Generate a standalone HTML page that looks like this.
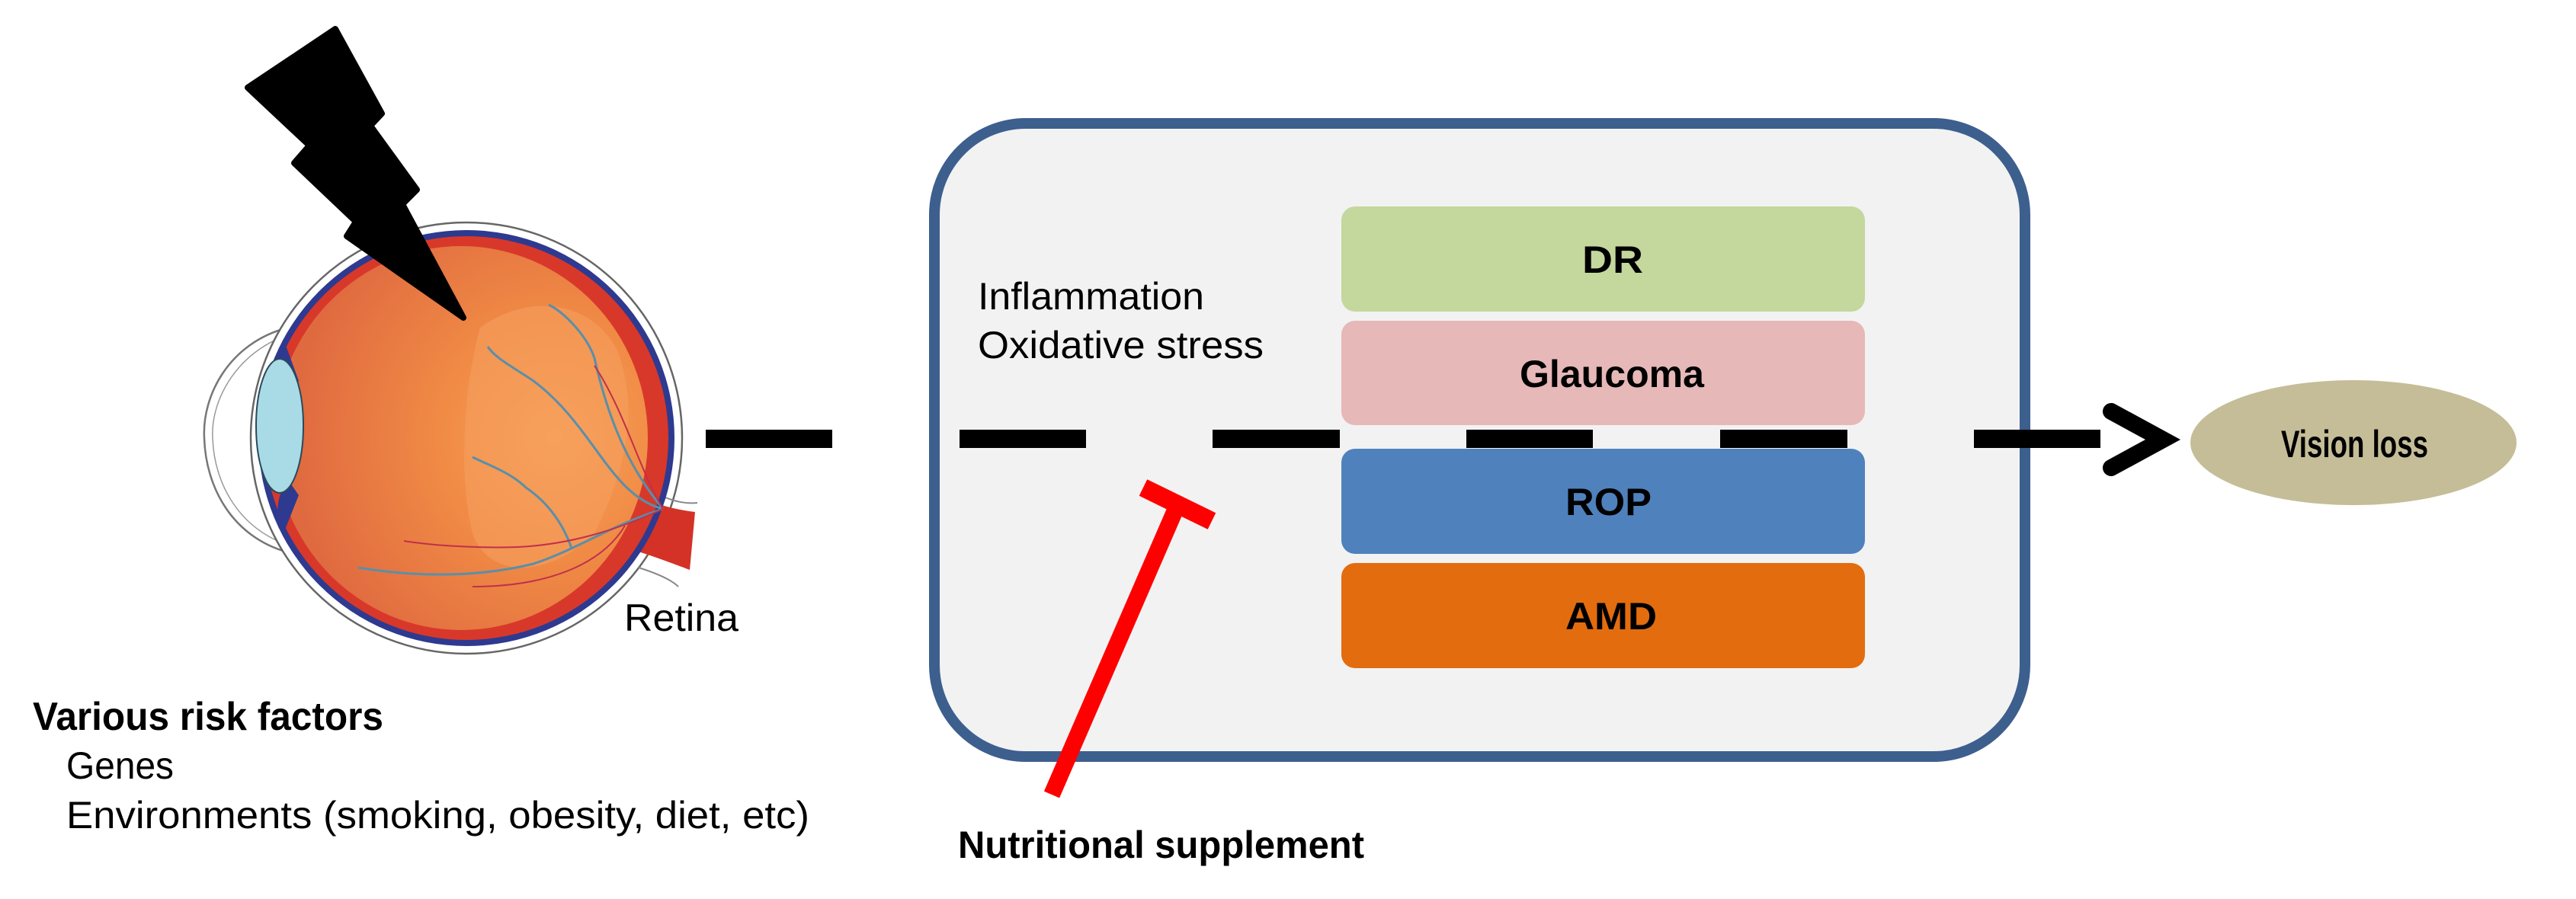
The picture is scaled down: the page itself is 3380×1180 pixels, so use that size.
<!DOCTYPE html>
<html><head><meta charset="utf-8"><style>
html,body{margin:0;padding:0;background:#fff}
body{width:3380px;height:1180px;overflow:hidden;position:relative;font-family:"Liberation Sans",Arial,sans-serif}
</style></head><body>
<svg width="3380" height="1180" viewBox="0 0 3380 1180" xmlns="http://www.w3.org/2000/svg" style="position:absolute;left:0;top:0">
<defs>
<radialGradient id="eyeg" cx="0.75" cy="0.5" r="0.7">
<stop offset="0" stop-color="#f7a057"/>
<stop offset="0.45" stop-color="#f08a45"/>
<stop offset="1" stop-color="#e06a40"/>
</radialGradient>
</defs>
<path d="M378,430 C300,450 265,520 268,575 C270,640 305,705 378,725" fill="#fff" stroke="#777" stroke-width="2.5"/>
<path d="M386,437 C312,458 276,525 279,575 C281,635 314,697 386,718" fill="none" stroke="#999" stroke-width="1.5"/>
<circle cx="612" cy="575" r="283" fill="#fff" stroke="#666" stroke-width="2.5"/>
<path d="M820,640 C850,660 880,668 912,672 L905,748 C870,735 845,725 815,718 Z" fill="#d43226"/>
<path d="M850,640 C870,655 895,662 915,660" fill="none" stroke="#888" stroke-width="2"/>
<path d="M838,745 C860,752 880,760 890,770" fill="none" stroke="#888" stroke-width="2"/>
<circle cx="612" cy="575" r="273" fill="#2e3a8f"/>
<circle cx="612" cy="575" r="265" fill="#d8382a"/>
<ellipse cx="605" cy="575" rx="245" ry="252" fill="url(#eyeg)"/>
<path d="M630,430 C700,380 780,400 810,460 C840,540 820,620 780,700 C720,760 640,760 620,700 C600,620 610,500 630,430Z" fill="#f5a060" opacity="0.55"/>
<g fill="none" stroke="#5a8fa8" stroke-width="3">
<path d="M870,668 C800,650 780,560 700,500 C670,480 650,470 640,455"/>
<path d="M870,668 C830,620 800,560 780,470 C770,440 740,410 720,400"/>
<path d="M870,668 C800,690 760,720 700,740 C640,755 560,760 470,745"/>
<path d="M750,720 C740,690 720,660 690,640 C670,620 640,610 620,600"/>
</g>
<g fill="none" stroke="#c0304a" stroke-width="2">
<path d="M870,668 C800,700 740,715 680,718 C620,720 560,715 530,710"/>
<path d="M870,668 C840,620 820,540 780,480"/>
<path d="M820,690 C790,740 720,770 620,770"/>
</g>
<path d="M372,445 C360,470 362,500 378,520 L392,500 Z" fill="#2e3a8f"/>
<path d="M372,700 C360,680 362,650 378,630 L392,650 Z" fill="#2e3a8f"/>
<ellipse cx="367" cy="559" rx="31" ry="88" fill="#a8dbe6" stroke="#2a4a5a" stroke-width="2"/>
<path d="M440,38 L501,149 L486,165 L547,249 L528,268 L608,417 L455,310 L467,291 L386,214 L406,191 L325,115 Z" fill="#000" stroke="#000" stroke-width="8" stroke-linejoin="round"/>

<rect x="1226" y="162" width="1431" height="831" rx="120" ry="120" fill="#f2f2f2" stroke="#3d5f8e" stroke-width="14"/>
<rect x="1760" y="271" width="687" height="138" rx="18" fill="#c4d79d"/>
<rect x="1760" y="421" width="687" height="137" rx="18" fill="#e6b8b7"/>
<rect x="1760" y="589" width="687" height="138" rx="18" fill="#4f81bd"/>
<rect x="1760" y="739" width="687" height="138" rx="18" fill="#e36c0e"/>
<g fill="#000">
<rect x="926" y="564" width="166" height="24"/>
<rect x="1259" y="564" width="166" height="24"/>
<rect x="1591" y="564" width="167" height="24"/>
<rect x="1924" y="564" width="166" height="24"/>
<rect x="2257" y="564" width="167" height="24"/>
<rect x="2590" y="564" width="166" height="24"/>
</g>
<polyline points="2770,540 2838,577 2770,614" fill="none" stroke="#000" stroke-width="22" stroke-linecap="round" stroke-linejoin="miter"/>
<ellipse cx="3088" cy="581" rx="214" ry="82" fill="#c4bd97"/>
<line x1="1380" y1="1043" x2="1544" y2="665" stroke="#ff0000" stroke-width="22"/>
<line x1="1500" y1="640" x2="1590" y2="684" stroke="#ff0000" stroke-width="24"/>

<g font-family="Liberation Sans, Arial, sans-serif" fill="#000" lengthAdjust="spacingAndGlyphs">
<text x="819" y="828" font-size="50" textLength="150" lengthAdjust="spacingAndGlyphs">Retina</text>
<text x="43" y="958" font-size="52" font-weight="bold" textLength="460" lengthAdjust="spacingAndGlyphs">Various risk factors</text>
<text x="87" y="1022" font-size="50" textLength="141" lengthAdjust="spacingAndGlyphs">Genes</text>
<text x="87" y="1087" font-size="50" textLength="975" lengthAdjust="spacingAndGlyphs">Environments (smoking, obesity, diet, etc)</text>
<text x="1283" y="406" font-size="50" textLength="297" lengthAdjust="spacingAndGlyphs">Inflammation</text>
<text x="1283" y="470" font-size="50" textLength="375" lengthAdjust="spacingAndGlyphs">Oxidative stress</text>
<text x="2076" y="358" font-size="50" font-weight="bold" textLength="80" lengthAdjust="spacingAndGlyphs">DR</text>
<text x="1994" y="508" font-size="50" font-weight="bold" textLength="242" lengthAdjust="spacingAndGlyphs">Glaucoma</text>
<text x="2054" y="676" font-size="50" font-weight="bold" textLength="113" lengthAdjust="spacingAndGlyphs">ROP</text>
<text x="2054" y="826" font-size="50" font-weight="bold" textLength="120" lengthAdjust="spacingAndGlyphs">AMD</text>
<text x="2993" y="600" font-size="50" font-weight="bold" textLength="193" lengthAdjust="spacingAndGlyphs">Vision loss</text>
<text x="1257" y="1126" font-size="50" font-weight="bold" textLength="533" lengthAdjust="spacingAndGlyphs">Nutritional supplement</text>
</g>
</svg>
</body></html>
